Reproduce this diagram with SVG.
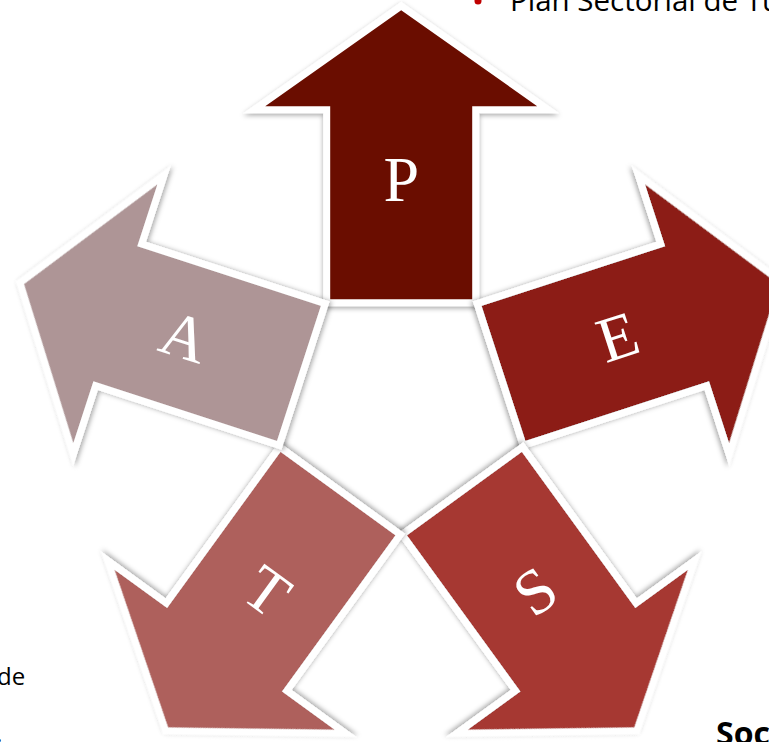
<svg xmlns="http://www.w3.org/2000/svg" xmlns:xlink="http://www.w3.org/1999/xlink" width="769" height="742" viewBox="0 0 769 742">
<style>
.arrow{stroke:#ffffff;stroke-width:14;stroke-linejoin:miter;stroke-miterlimit:8;paint-order:stroke;filter:url(#sh)}
.lbl{font-family:"Liberation Serif","DejaVu Serif",serif;font-size:64px;fill:#ffffff;text-anchor:middle}
.txt{font-family:"Open Sans","Liberation Sans",sans-serif;fill:#000000}
</style>
<defs>
<filter id="sh" x="-20%" y="-20%" width="140%" height="140%">
<feDropShadow dx="0" dy="2" stdDeviation="2.5" flood-color="#000000" flood-opacity="0.35"/>
</filter>
<path id="arr" d="M -71 0 L -71 -193 L -136 -193 L 0 -289 L 136 -193 L 71 -193 L 71 0 Z"/>
</defs>
<rect width="769" height="742" fill="#ffffff"/>
<g id="text-fragments">
<circle cx="478" cy="1" r="3.5" fill="#c00000"/>
<text class="txt" x="510" y="11" font-size="29.5">Plan Sectorial de Tur</text>
<text class="txt" x="-3" y="685" font-size="24">de</text>
<text class="txt" x="-4" y="742" font-size="24">.</text>
<text class="txt" x="716" y="745" font-size="32" font-weight="bold">Soc</text>
</g>
<g id="connectors"></g>
<g id="node-P">
<use xlink:href="#arr" class="arrow" fill="#6a0e00" transform="translate(401.2,299.2)"/>
<text class="lbl" transform="translate(401.2,179.2)" x="0" y="22">P</text>
</g>
<g id="node-E">
<use xlink:href="#arr" class="arrow" fill="#8c1e12" transform="translate(503.5,373.4) rotate(72)"/>
<text class="lbl" transform="translate(617.6,336.3) rotate(-18)" x="0" y="22">E</text>
</g>
<g id="node-S">
<use xlink:href="#arr" class="arrow" fill="#a63730" transform="translate(464.4,493.6) rotate(144)"/>
<text class="lbl" transform="translate(534.9,590.7) rotate(-36)" x="0" y="22">S</text>
</g>
<g id="node-T">
<use xlink:href="#arr" class="arrow" fill="#ae605c" transform="translate(338.0,493.6) rotate(216)"/>
<text class="lbl" transform="translate(267.5,590.7) rotate(36)" x="0" y="22">T</text>
</g>
<g id="node-A">
<use xlink:href="#arr" class="arrow" fill="#ae9596" transform="translate(298.9,373.4) rotate(288)"/>
<text class="lbl" transform="translate(184.8,336.3) rotate(18)" x="0" y="22">A</text>
</g>
</svg>
